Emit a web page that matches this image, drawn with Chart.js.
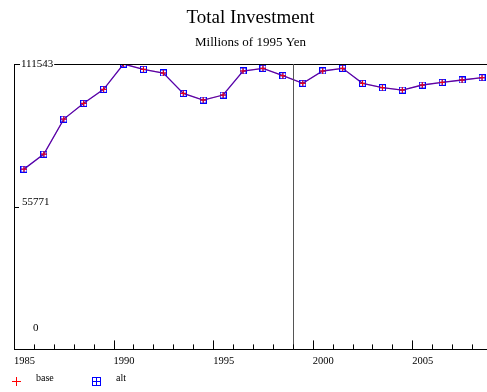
<!DOCTYPE html>
<html>
<head>
<meta charset="utf-8">
<script src="https://cdn.jsdelivr.net/npm/chart.js@4/dist/chart.umd.min.js"></script>
<style>
  html, body { margin: 0; padding: 0; background: #fff; }
  #wrap { width: 487px; height: 392px; }
</style>
</head>
<body>
<div id="wrap"><canvas id="chart"></canvas></div>
<script>
let years = [1985, 1986, 1987, 1988, 1989, 1990, 1991, 1992, 1993, 1994, 1995, 1996,
             1997, 1998, 1999, 2000, 2001, 2002, 2003, 2004, 2005, 2006, 2007, 2008];
let base_values = [70450, 76320, 90020, 96170, 101650, 111543, 109470, 108030, 100080, 97460, 99420, 108810,
                   109860, 106970, 104000, 108810, 109860, 104000, 102280, 101370, 103330, 104380, 105290, 106190];
let alt_values = base_values.slice();
let y_tick_labels = [0, 55771, 111543];
let x_tick_labels = [1985, 1990, 1995, 2000, 2005];
let split_year = 1999;

let serif = '"Liberation Serif", "Times New Roman", serif';

// titik tengah tahun
function toPoints(vals) {
    return years.map(function (y, i) { return { x: y + 0.5, y: vals[i] }; });
}

// marker kotak + silang biru untuk "alt"
function makeAltMarker(size) {
    let c = document.createElement('canvas');
    c.width = size; c.height = size;
    let g = c.getContext('2d');
    g.strokeStyle = '#0000ff';
    g.lineWidth = 1;
    g.strokeRect(0.5, 0.5, size - 1, size - 1);
    let m = Math.floor(size / 2) + 0.5;
    g.beginPath();
    g.moveTo(0, m); g.lineTo(size, m);
    g.moveTo(m, 0); g.lineTo(m, size);
    g.stroke();
    return c;
}
let altMarker = makeAltMarker(7);
let altLegendMarker = makeAltMarker(9);

let decorPlugin = {
    id: 'decor',
    afterDraw: function (chart) {
        let ctx = chart.ctx;
        let area = chart.chartArea;
        let xs = chart.scales.x, ys = chart.scales.y;
        ctx.save();

        // garis atas & garis vertikal
        let yTop = Math.round(ys.getPixelForValue(y_tick_labels[2])) + 0.5;
        ctx.strokeStyle = '#000';
        ctx.lineWidth = 1;
        ctx.beginPath();
        ctx.moveTo(area.left, yTop); ctx.lineTo(area.right, yTop);
        ctx.stroke();

        let xv = Math.round(xs.getPixelForValue(split_year)) + 0.5;
        ctx.strokeStyle = '#555';
        ctx.beginPath();
        ctx.moveTo(xv, area.top); ctx.lineTo(xv, area.bottom);
        ctx.stroke();

        // tick sumbu x
        ctx.strokeStyle = '#000';
        ctx.beginPath();
        for (let yr = years[0]; yr <= xs.max; yr++) {
            let px = Math.round(xs.getPixelForValue(yr)) + 0.5;
            let len = (yr % 5 === 0) ? 9 : 5;
            ctx.moveTo(px, area.bottom); ctx.lineTo(px, area.bottom - len);
        }
        // tick sumbu y
        let yMid = Math.round(ys.getPixelForValue(y_tick_labels[1])) + 0.5;
        ctx.moveTo(area.left, yMid); ctx.lineTo(area.left + 5, yMid);
        ctx.stroke();

        // label sumbu y
        ctx.font = '11px ' + serif;
        ctx.textBaseline = 'middle';
        ctx.textAlign = 'left';
        let lbl = String(y_tick_labels[2]);
        let w = ctx.measureText(lbl).width;
        ctx.fillStyle = '#fff';
        ctx.fillRect(area.left + 6, yTop - 6, w + 2, 12);
        ctx.fillStyle = '#000';
        ctx.fillText(lbl, area.left + 7, yTop);
        ctx.fillText(String(y_tick_labels[1]), area.left + 8, yMid - 5);
        ctx.fillText(String(y_tick_labels[0]), area.left + 19, ys.getPixelForValue(0) - 21);

        // legenda
        let ly = 381;
        ctx.strokeStyle = '#ff0000';
        ctx.beginPath();
        ctx.moveTo(12, ly + 0.5); ctx.lineTo(21, ly + 0.5);
        ctx.moveTo(16.5, ly - 4); ctx.lineTo(16.5, ly + 5);
        ctx.stroke();
        ctx.drawImage(altLegendMarker, 92, ly - 4);
        ctx.fillStyle = '#000';
        ctx.font = '10px ' + serif;
        ctx.fillText(chart.data.datasets[0].label, 36, ly - 3);
        ctx.fillText(chart.data.datasets[1].label, 116, ly - 3);
        ctx.restore();
    }
};

let chart = new Chart(document.getElementById('chart'), {
    type: 'line',
    data: {
        datasets: [{
            label: 'base',
            data: toPoints(base_values),
            borderColor: 'rgba(255,0,0,0.3)',
            borderWidth: 1,
            pointStyle: 'cross',
            pointRadius: 3,
            pointBorderColor: '#ff0000',
            pointBorderWidth: 1,
            tension: 0
        }, {
            label: 'alt',
            data: toPoints(alt_values),
            borderColor: '#3000d0',
            borderWidth: 1.3,
            pointStyle: altMarker,
            tension: 0
        }]
    },
    options: {
        responsive: true,
        maintainAspectRatio: false,
        animation: false,
        events: [],
        layout: { autoPadding: false, padding: { left: 14, right: 0, top: 0, bottom: 18 } },
        scales: {
            x: {
                type: 'linear',
                min: years[0],
                max: 2008.75,
                afterBuildTicks: function (axis) {
                    axis.ticks = x_tick_labels.map(function (v) { return { value: v }; });
                },
                afterFit: function (axis) {
                    axis.paddingLeft = 0;
                    axis.paddingRight = 0;
                },
                grid: { display: false, drawTicks: false },
                border: { display: true, color: '#000', width: 1 },
                ticks: {
                    align: 'start',
                    padding: 6,
                    color: '#000',
                    maxRotation: 0,
                    font: { family: serif, size: 10.5 },
                    callback: function (v) { return String(v); }
                }
            },
            y: {
                min: 0,
                max: y_tick_labels[2],
                grid: { display: false, drawTicks: false },
                border: { display: true, color: '#000', width: 1 },
                ticks: { display: false }
            }
        },
        plugins: {
            legend: { display: false },
            tooltip: { enabled: false },
            title: {
                display: true,
                fullSize: false,
                text: 'Total Investment',
                color: '#000',
                font: { family: serif, size: 19, weight: 'normal' },
                padding: { top: 7, bottom: 0 }
            },
            subtitle: {
                display: true,
                fullSize: false,
                text: 'Millions of 1995 Yen',
                color: '#000',
                font: { family: serif, size: 13, weight: 'normal' },
                padding: { top: 5, bottom: 13.6 }
            }
        }
    },
    plugins: [decorPlugin]
});
</script>
</body>
</html>
